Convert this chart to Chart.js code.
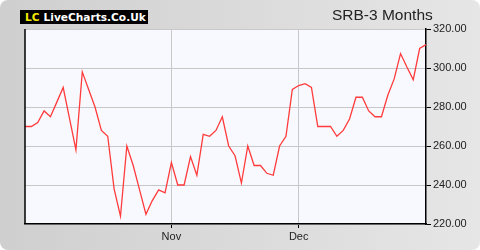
<!DOCTYPE html>
<html>
<head>
<meta charset="utf-8">
<script src="https://cdn.jsdelivr.net/npm/chart.js@4.4.0/dist/chart.umd.min.js"></script>
<style>
    body { margin: 0; background: #fff; }
    #panel {
        position: relative;
        width: 480px;
        height: 250px;
        border-radius: 8px;
        overflow: hidden;
        background: linear-gradient(to right, #cfcfcf, #e6e6e6);
    }
    #logo {
        position: absolute;
        left: 20px;
        top: 10px;
        width: 128px;
        height: 14px;
        background: #000;
        font: bold 10.6px "DejaVu Sans", Verdana, sans-serif;
        line-height: 14px;
        color: #fff;
        white-space: nowrap;
    }
    #logo span { color: #f5e800; margin-left: 5px; margin-right: 4px; }
    #title {
        position: absolute;
        left: 332px;
        top: 6px;
        font: 15.5px "Liberation Sans", Arial, sans-serif;
        color: #222;
        white-space: nowrap;
    }
    canvas { position: absolute; left: 0; top: 0; }
</style>
</head>
<body>
<div id="panel">
    <canvas id="chart" width="480" height="250"></canvas>
    <div id="logo"><span>LC</span>LiveCharts.Co.Uk</div>
    <div id="title">SRB-3 Months</div>
</div>
<script>
// SRB close prices, one per trading day (3 months)
const prices = [270, 270, 272, 278, 275, 282.5, 290, 274, 258, 298,
    289, 280, 268, 265, 238, 224, 260, 250, 237.5, 225,
    232, 237.5, 236, 251.5, 240, 240, 254.6, 245, 266, 265,
    268, 275, 260, 255, 241, 260, 250, 250, 246, 245,
    260, 265, 289, 291, 292, 290, 270, 270, 270, 265,
    268, 274, 285, 285, 278, 275, 275, 286, 294.4, 307.4,
    300.5, 294, 310, 312];

// month starts (index into prices) and their names
const monthIndex = [23, 43];
const monthNames = ['Nov', 'Dec'];

const yTicks = [220, 240, 260, 280, 300, 320];

const labels = prices.map((p, i) => {
    const m = monthIndex.indexOf(i);
    return m >= 0 ? monthNames[m] : '';
});

const frame = {
    id: 'frame',
    beforeDraw(chart) {
        const a = chart.chartArea;
        const ctx = chart.ctx;
        ctx.save();
        ctx.fillStyle = '#f8f9ff';
        ctx.fillRect(a.left, a.top, a.right - a.left, a.bottom - a.top);
        ctx.restore();
    },
    afterDraw(chart) {
        const a = chart.chartArea;
        const ctx = chart.ctx;
        ctx.save();
        ctx.strokeStyle = '#000';
        ctx.lineWidth = 1.5;
        ctx.beginPath();
        ctx.moveTo(a.left, a.top);
        ctx.lineTo(a.left, a.bottom);
        ctx.stroke();
        ctx.restore();
    }
};

const font = { family: '"Liberation Sans", Arial, sans-serif', size: 11 };

new Chart(document.getElementById('chart'), {
    type: 'line',
    data: {
        labels: labels,
        datasets: [{
            data: prices,
            borderColor: '#ff3b3b',
            borderWidth: 1.3,
            pointRadius: 0,
            tension: 0,
            fill: false
        }]
    },
    options: {
        responsive: false,
        animation: false,
        devicePixelRatio: 1,
        layout: { padding: { left: 25, top: 29, right: 0, bottom: 0 } },
        plugins: {
            legend: { display: false },
            tooltip: { enabled: false }
        },
        scales: {
            x: {
                afterBuildTicks: scale => {
                    scale.ticks = scale.ticks.filter(t => labels[t.value]);
                },
                afterFit: scale => { scale.height = 26; },
                grid: { color: '#c8c8c8', tickColor: '#000', tickLength: 4 },
                border: { color: '#000', width: 1.5 },
                ticks: {
                    autoSkip: false,
                    maxRotation: 0,
                    padding: 2,
                    color: '#222',
                    font: font,
                    callback: (v, i, ticks) => labels[ticks[i].value]
                }
            },
            y: {
                position: 'right',
                min: yTicks[0],
                max: yTicks[yTicks.length - 1],
                afterBuildTicks: scale => {
                    scale.ticks = yTicks.map(v => ({ value: v }));
                },
                afterFit: scale => { scale.width = 54; },
                grid: { color: '#c8c8c8', tickColor: '#000', tickLength: 5 },
                border: { color: '#000', width: 1.5 },
                ticks: {
                    padding: 2,
                    color: '#222',
                    font: font,
                    callback: v => v.toFixed(2)
                }
            }
        }
    },
    plugins: [frame]
});
</script>
</body>
</html>
